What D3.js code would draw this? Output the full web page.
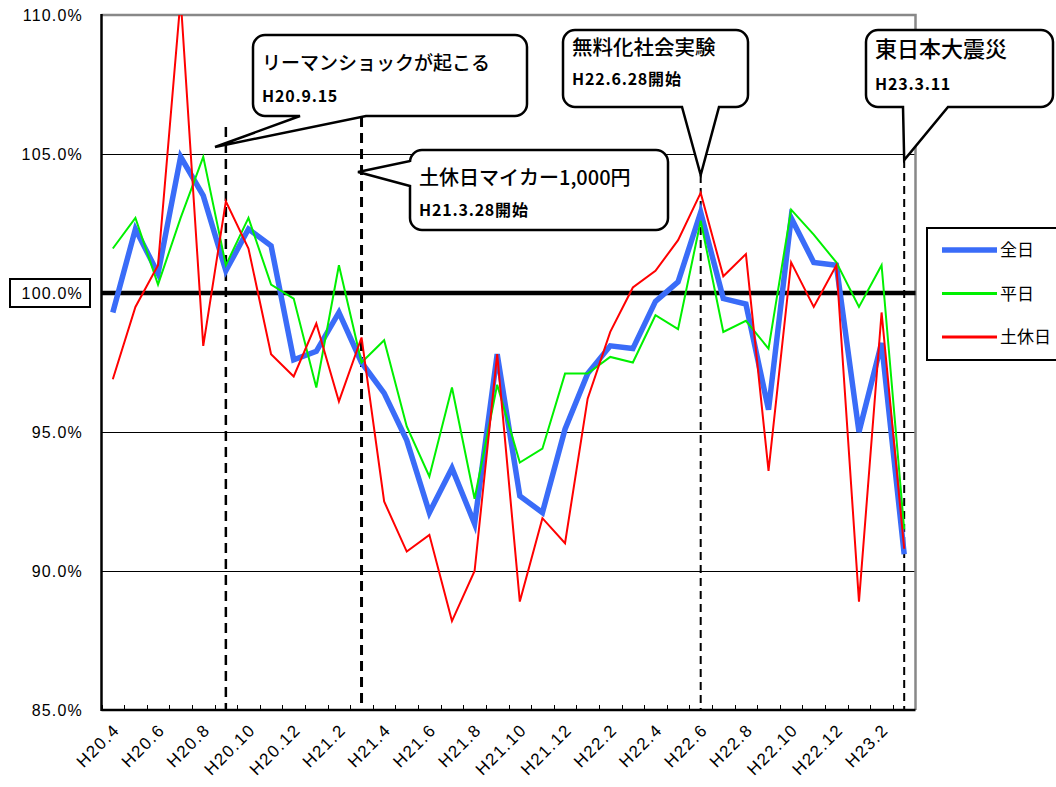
<!DOCTYPE html>
<html>
<head>
<meta charset="utf-8">
<script src="https://cdn.jsdelivr.net/npm/d3@7"></script>
<style>
  body { margin: 0; background: #fff; }
  svg { display: block; }
  .ylab { font-family: "Liberation Sans", Arial, sans-serif; font-size: 16px; letter-spacing: 1.2px; fill: #000; }
  .xlab { font-family: "Liberation Sans", Arial, sans-serif; font-size: 17px; letter-spacing: 1.5px; fill: #000; }
  .jp { font-family: "Noto Sans CJK JP", sans-serif; fill: #000; }
</style>
</head>
<body>
<div id="chart"></div>
<script>
// monthly ratio vs previous year (%)
const months = [
  'H20.4', 'H20.5', 'H20.6', 'H20.7', 'H20.8', 'H20.9', 'H20.10', 'H20.11', 'H20.12',
  'H21.1', 'H21.2', 'H21.3', 'H21.4', 'H21.5', 'H21.6', 'H21.7', 'H21.8', 'H21.9',
  'H21.10', 'H21.11', 'H21.12', 'H22.1', 'H22.2', 'H22.3', 'H22.4', 'H22.5', 'H22.6',
  'H22.7', 'H22.8', 'H22.9', 'H22.10', 'H22.11', 'H22.12', 'H23.1', 'H23.2', 'H23.3'
];
const xTickLabels = [
  'H20.4', 'H20.6', 'H20.8', 'H20.10', 'H20.12', 'H21.2', 'H21.4', 'H21.6', 'H21.8',
  'H21.10', 'H21.12', 'H22.2', 'H22.4', 'H22.6', 'H22.8', 'H22.10', 'H22.12', 'H23.2'
];
const yTicks = [85, 90, 95, 100, 105, 110];

const allDays = [
  99.3, 102.3, 100.7, 104.9, 103.5, 100.8, 102.3, 101.7, 97.6,
  97.9, 99.3, 97.5, 96.4, 94.7, 92.1, 93.7, 91.7, 97.8,
  92.7, 92.1, 95.1, 97.1, 98.1, 98.0, 99.7, 100.4, 102.9,
  99.8, 99.6, 95.8, 102.7, 101.1, 101.0, 95.0, 98.2, 90.6
];
const weekdays = [
  101.6, 102.7, 100.3, 102.7, 104.9, 101.0, 102.7, 100.3, 99.8,
  96.6, 101.0, 97.5, 98.3, 95.2, 93.4, 96.6, 92.6, 96.7,
  93.9, 94.4, 97.1, 97.1, 97.7, 97.5, 99.2, 98.7, 102.6,
  98.6, 99.0, 98.0, 103.0, 102.1, 101.1, 99.5, 101.0, 91.5
];
const holidays = [
  96.9, 99.5, 101.0, 110.6, 98.1, 103.3, 101.6, 97.8, 97.0,
  98.9, 96.1, 98.4, 92.5, 90.7, 91.3, 88.2, 90.0, 97.8,
  88.9, 91.9, 91.0, 96.2, 98.6, 100.2, 100.8, 101.9, 103.6,
  100.6, 101.4, 93.6, 101.1, 99.5, 101.0, 88.9, 99.3, 90.8
];

const seriesNames = ['全日', '平日', '土休日'];
const seriesColors = ['#3a6cf8', '#00f000', '#ff0000'];
const seriesWidths = [5.5, 2, 2];

const events = [
  { month: 'H20.9', title: 'リーマンショックが起こる', date: 'H20.9.15' },
  { month: 'H21.3', title: '土休日マイカー1,000円', date: 'H21.3.28開始' },
  { month: 'H22.6', title: '無料化社会実験', date: 'H22.6.28開始' },
  { month: 'H23.3', title: '東日本大震災', date: 'H23.3.11' }
];

const W = 1056, H = 787;
const plot = { left: 101.5, right: 915.5, top: 15, bottom: 710 };

const svg = d3.select('#chart').append('svg')
  .attr('width', W).attr('height', H);
const defs = svg.append('defs');

const x = d3.scaleBand().domain(months).range([plot.left, plot.right]);
const y = d3.scaleLinear().domain([85, 110]).range([plot.bottom, plot.top]);
const cx = m => x(m) + x.bandwidth() / 2;
const crisp = v => Math.round(v) + 0.5;

// grid lines
svg.append('g').selectAll('line')
  .data(yTicks.filter(v => v !== 85 && v !== 110 && v !== 100))
  .join('line')
  .attr('x1', plot.left).attr('x2', plot.right)
  .attr('y1', d => crisp(y(d))).attr('y2', d => crisp(y(d)))
  .attr('stroke', '#000').attr('stroke-width', 1);

// plot border (top / right)
svg.append('path')
  .attr('d', `M${plot.left},${plot.top}H${plot.right}V${plot.bottom}`)
  .attr('fill', 'none').attr('stroke', '#888').attr('stroke-width', 2.5);

// 100% baseline
svg.append('line')
  .attr('x1', plot.left).attr('x2', plot.right)
  .attr('y1', y(100)).attr('y2', y(100))
  .attr('stroke', '#000').attr('stroke-width', 4.5);

// y labels
svg.append('g').selectAll('text')
  .data(yTicks)
  .join('text')
  .attr('class', 'ylab')
  .attr('x', 83).attr('y', d => y(d) + 6)
  .attr('text-anchor', 'end')
  .text(d => d.toFixed(1) + '%');

svg.append('rect')
  .attr('x', 10).attr('y', y(100) - 14).attr('width', 80).attr('height', 28)
  .attr('fill', 'none').attr('stroke', '#000').attr('stroke-width', 2);

// event dashed lines
const dashStyle = [
  { top: 127, w: 2.5, dash: '10,6' },
  { top: 117, w: 3, dash: '10,6' },
  { top: 175, w: 2, dash: '8,5' },
  { top: 160, w: 2, dash: '8,5' }
];
svg.append('g').selectAll('line')
  .data(events)
  .join('line')
  .attr('x1', d => cx(d.month)).attr('x2', d => cx(d.month))
  .attr('y1', (d, i) => dashStyle[i].top).attr('y2', plot.bottom)
  .attr('stroke', '#000')
  .attr('stroke-width', (d, i) => dashStyle[i].w)
  .attr('stroke-dasharray', (d, i) => dashStyle[i].dash);

// series
defs.append('clipPath').attr('id', 'clip')
  .append('rect')
  .attr('x', plot.left).attr('y', plot.top)
  .attr('width', plot.right - plot.left).attr('height', plot.bottom - plot.top);

const line = d3.line().x((d, i) => cx(months[i])).y(d => y(d));
const seriesData = [allDays, weekdays, holidays];
const lines = svg.append('g').attr('clip-path', 'url(#clip)');
seriesData.forEach((vals, i) => {
  lines.append('path')
    .datum(vals)
    .attr('d', line)
    .attr('fill', 'none')
    .attr('stroke', seriesColors[i])
    .attr('stroke-width', seriesWidths[i])
    .attr('stroke-linejoin', 'miter');
});

// axes lines
svg.append('line')
  .attr('x1', plot.left).attr('x2', plot.left)
  .attr('y1', plot.top - 1).attr('y2', plot.bottom + 1)
  .attr('stroke', '#000').attr('stroke-width', 2.5);

const xAxis = svg.append('g');
xAxis.append('line')
  .attr('x1', plot.left).attr('x2', plot.right)
  .attr('y1', plot.bottom).attr('y2', plot.bottom)
  .attr('stroke', '#000').attr('stroke-width', 2.5);
xAxis.selectAll('.tk')
  .data(months)
  .join('line')
  .attr('class', 'tk')
  .attr('x1', d => crisp(x(d))).attr('x2', d => crisp(x(d)))
  .attr('y1', plot.bottom).attr('y2', plot.bottom - 5)
  .attr('stroke', '#000').attr('stroke-width', 1);

// month labels laid on 45deg paths (ending just right of the tick)
const L = 90;
defs.selectAll('path.xp')
  .data(xTickLabels)
  .join('path')
  .attr('class', 'xp')
  .attr('id', (d, i) => 'xp' + i)
  .attr('d', d => {
    const ex = cx(d) + 8, ey = plot.bottom + 21;
    return `M${ex - L},${ey + L}L${ex},${ey}`;
  });
xAxis.selectAll('text.xlab')
  .data(xTickLabels)
  .join('text')
  .attr('class', 'xlab')
  .attr('text-anchor', 'end')
  .append('textPath')
  .attr('href', (d, i) => '#xp' + i)
  .attr('startOffset', '100%')
  .text(d => d);

// callouts
function callout(b, tail, side) {
  const { x: bx, y: by, w, h } = b, r = 12;
  let p = `M${bx + r},${by}H${bx + w - r}A${r},${r} 0 0 1 ${bx + w},${by + r}V${by + h - r}A${r},${r} 0 0 1 ${bx + w - r},${by + h}`;
  if (side === 'bottom') {
    p += `H${tail.b2}L${tail.tx},${tail.ty}L${tail.b1},${by + h}`;
  }
  p += `H${bx + r}A${r},${r} 0 0 1 ${bx},${by + h - r}`;
  if (side === 'left') {
    p += `V${tail.b2}L${tail.tx},${tail.ty}L${bx},${tail.b1}`;
  }
  p += `V${by + r}A${r},${r} 0 0 1 ${bx + r},${by}Z`;
  svg.append('path').attr('d', p)
    .attr('fill', '#fff').attr('stroke', '#000').attr('stroke-width', 2.5)
    .attr('stroke-linejoin', 'miter');
}

const boxes = [
  { x: 253, y: 35, w: 274, h: 81, tail: { b1: 300, b2: 366, tx: 215, ty: 147 }, side: 'bottom', ty1: 70, ty2: 102, fs: 19 },
  { x: 410, y: 150, w: 258, h: 80, tail: { b1: 161, b2: 186, tx: 358, ty: 172 }, side: 'left', ty1: 185, ty2: 216, fs: 20 },
  { x: 563, y: 30, w: 185, h: 77, tail: { b1: 682, b2: 719, tx: cx(events[2].month), ty: 175 }, side: 'bottom', ty1: 55, ty2: 85, fs: 20.5 },
  { x: 866, y: 30, w: 187, h: 77, tail: { b1: 903, b2: 948, tx: cx(events[3].month), ty: 160 }, side: 'bottom', ty1: 57, ty2: 90, fs: 22 }
];

boxes.forEach((b, i) => {
  callout(b, b.tail, b.side);
  svg.append('text').attr('class', 'jp')
    .attr('x', b.x + 9).attr('y', b.ty1)
    .attr('font-size', b.fs).attr('font-weight', 500)
    .text(events[i].title);
  svg.append('text').attr('class', 'jp')
    .attr('x', b.x + 9).attr('y', b.ty2)
    .attr('font-size', 16).attr('font-weight', 700)
    .attr('letter-spacing', 0.8)
    .text(events[i].date);
});

// legend
const lg = svg.append('g');
lg.append('rect')
  .attr('x', 927).attr('y', 228).attr('width', 140).attr('height', 132)
  .attr('fill', '#fff').attr('stroke', '#000').attr('stroke-width', 2);
const legendY = d3.scalePoint().domain(seriesNames).range([250, 337]);
seriesNames.forEach((name, i) => {
  lg.append('line')
    .attr('x1', 942).attr('x2', 997)
    .attr('y1', legendY(name)).attr('y2', legendY(name))
    .attr('stroke', seriesColors[i])
    .attr('stroke-width', seriesWidths[i] === 2 ? 3 : seriesWidths[i]);
  lg.append('text').attr('class', 'jp')
    .attr('x', 1000).attr('y', legendY(name) + 6)
    .attr('font-size', 17)
    .text(name);
});
</script>
</body>
</html>
